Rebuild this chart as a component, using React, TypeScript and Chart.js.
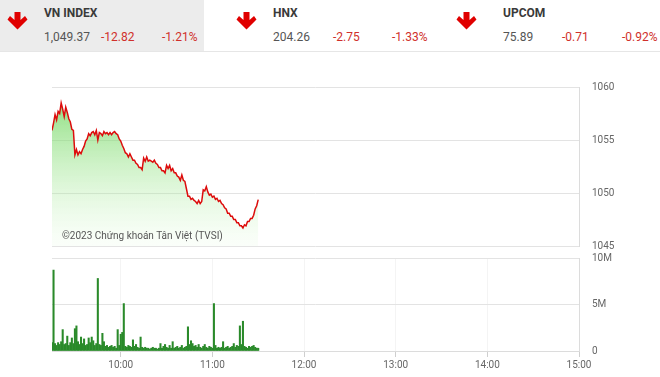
import React, { useEffect, useRef } from "react";
import { Chart, registerables } from "chart.js";
Chart.register(...registerables);

const START_MINUTE = 555; // 9:15
const END_MINUTE = 900; // 15:00
const timeTicks = [600, 660, 720, 780, 840, 900];
const priceTicks = [1045, 1050, 1055, 1060];

const prices = [
  1055.9, 1056.6, 1057.4, 1056.9, 1057.7, 1057.5, 1058.5, 1057.9, 1057.2, 1058.1,
  1057.6, 1057.0, 1056.7, 1056.0, 1055.9, 1053.6, 1054.1, 1053.6, 1053.9, 1053.7,
  1054.1, 1054.4, 1054.9, 1055.1, 1055.6, 1055.4, 1055.7, 1055.8, 1055.5, 1055.9,
  1055.0, 1055.7, 1055.6, 1055.4, 1055.8, 1055.6, 1055.7, 1055.5, 1055.7, 1055.5,
  1055.7, 1055.8, 1055.6, 1055.5, 1055.1, 1054.9, 1054.5, 1054.2, 1053.8, 1053.7,
  1053.4, 1053.7, 1053.4, 1053.1, 1053.1, 1052.8, 1052.7, 1052.4, 1052.4, 1052.2,
  1053.3, 1053.0, 1053.4, 1053.0, 1053.1, 1053.0, 1052.9, 1053.1, 1052.8, 1052.7,
  1052.4, 1052.4, 1052.1, 1052.1, 1051.9, 1052.6, 1052.3, 1052.6, 1052.1, 1052.3,
  1051.9, 1051.9, 1051.6, 1051.5, 1051.2, 1051.7, 1051.2, 1051.1, 1050.4, 1049.7,
  1049.7, 1049.4, 1049.5, 1049.3, 1049.2, 1049.0, 1049.3, 1049.0, 1049.2, 1050.3,
  1050.2, 1050.6, 1050.1, 1049.8, 1049.9, 1049.6, 1049.7, 1049.4, 1049.5, 1049.2,
  1049.3, 1049.0, 1048.9, 1048.6, 1048.5, 1048.1, 1048.1, 1047.8, 1047.8, 1047.5,
  1047.5, 1047.2, 1047.2, 1046.9, 1046.9, 1046.7, 1047.0, 1046.9, 1047.3, 1047.3,
  1047.6, 1047.6, 1047.9, 1048.5, 1048.8, 1049.37,
];

// volume in millions of shares, per minute
const volumes = [
  0.9, 8.7, 0.8, 0.6, 0.9, 0.7, 1.0, 2.3, 0.7, 0.8,
  1.6, 0.6, 0.9, 1.4, 0.8, 2.4, 2.7, 1.0, 0.7, 1.5,
  0.8, 1.3, 0.6, 0.7, 1.4, 0.9, 1.5, 1.1, 0.6, 0.8,
  7.8, 0.7, 0.6, 1.9, 1.0, 0.5, 0.6, 0.4, 0.5, 0.6,
  0.4, 0.5, 0.3, 2.3, 0.6, 1.8, 2.0, 5.1, 0.5, 0.4,
  0.6, 0.5, 0.4, 1.2, 0.5, 0.7, 0.4, 0.3, 1.5, 0.4,
  0.3, 0.4, 0.3, 0.3, 0.2, 0.3, 0.4, 0.3, 0.3, 0.2,
  0.3, 0.8, 0.3, 0.5, 0.7, 0.4, 0.3, 0.6, 0.3, 1.0,
  0.3, 0.4, 0.5, 0.3, 0.4, 0.6, 0.3, 0.4, 0.5, 2.6,
  0.7, 1.1, 0.8, 0.5, 0.6, 0.4, 0.7, 0.4, 0.3, 0.5,
  0.7, 0.4, 0.3, 0.5, 0.4, 0.3, 5.1, 0.6, 0.3, 0.4,
  0.3, 0.4, 1.0, 0.3, 0.4, 0.5, 0.3, 0.4, 0.5, 0.8,
  0.4, 0.6, 0.5, 2.7, 0.7, 3.2, 0.5, 0.4, 0.3, 0.5,
  0.4, 0.5, 0.6, 0.4, 0.3, 0.3,
];

const indices = [
  { name: "VN INDEX", value: "1,049.37", change: "-12.82", pct: "-1.21%", x: 0, bg: "#ececec" },
  { name: "HNX", value: "204.26", change: "-2.75", pct: "-1.33%", x: 220, bg: "#ffffff" },
  { name: "UPCOM", value: "75.89", change: "-0.71", pct: "-0.92%", x: 440, bg: "#ffffff" },
];

const FONT = "Roboto, Arial, sans-serif";
const fmtTime = (v: number) => {
  const h = Math.floor(v / 60);
  const m = v % 60;
  return `${h}:${m < 10 ? "0" + m : m}`;
};

function Arrow() {
  return (
    <svg width="21" height="18" viewBox="0 0 20 18">
      <path d="M7,0 L13,0 L13,8 L17.5,4 L20,7.5 L10,17.5 L0,7.5 L2.5,4 L7,8 Z" fill="#e00000" />
    </svg>
  );
}

export default function App() {
  const priceRef = useRef<HTMLCanvasElement>(null);
  const volRef = useRef<HTMLCanvasElement>(null);

  useEffect(() => {
    const times = prices.map((_, i) => START_MINUTE + i);
    const priceChart = new Chart(priceRef.current!, {
      type: "line",
      data: {
        datasets: [
          {
            data: prices.map((p, i) => ({ x: times[i], y: p })),
            borderColor: "#dd0c0c",
            borderWidth: 1.5,
            pointRadius: 0,
            tension: 0,
            fill: "start",
            backgroundColor: (ctx: any) => {
              const area = ctx.chart.chartArea;
              if (!area) return "rgba(120,210,100,0.5)";
              const g = ctx.chart.ctx.createLinearGradient(0, area.top, 0, area.bottom);
              g.addColorStop(0, "rgba(95,208,75,0.8)");
              g.addColorStop(1, "rgba(200,245,190,0.08)");
              return g;
            },
          },
        ],
      },
      options: {
        animation: false,
        responsive: false,
        maintainAspectRatio: false,
        layout: { padding: { left: 52, top: 87, bottom: 131, right: 0 } },
        plugins: { legend: { display: false }, tooltip: { enabled: false } },
        scales: {
          x: {
            type: "linear",
            min: START_MINUTE,
            max: END_MINUTE,
            display: false,
          },
          y: {
            position: "right",
            min: 1045,
            max: 1060,
            afterBuildTicks: (s: any) => {
              s.ticks = priceTicks.map((v) => ({ value: v }));
            },
            afterFit: (s: any) => {
              s.width = 81;
            },
            grid: { color: "#e3e3e3", drawTicks: false },
            border: { display: true, color: "#dcdcdc" },
            ticks: {
              padding: 13,
              color: "#666",
              font: { family: FONT, size: 10 },
              callback: (v: any) => String(v),
            },
          },
        },
      },
    });

    const volChart = new Chart(volRef.current!, {
      type: "bar",
      data: {
        datasets: [
          {
            data: volumes.map((v, i) => ({ x: times[i], y: v * 1e6 })),
            backgroundColor: "#2a8a2a",
            barThickness: 1.4,
            borderWidth: 0,
          },
        ],
      },
      options: {
        animation: false,
        responsive: false,
        maintainAspectRatio: false,
        layout: { padding: { left: 52, top: 258, bottom: 0, right: 0 } },
        plugins: { legend: { display: false }, tooltip: { enabled: false } },
        scales: {
          x: {
            type: "linear",
            min: START_MINUTE,
            max: END_MINUTE,
            offset: false,
            afterBuildTicks: (s: any) => {
              s.ticks = timeTicks.map((v) => ({ value: v }));
            },
            afterFit: (s: any) => {
              s.height = 26;
            },
            grid: { color: "#f4f4f4", tickColor: "#cfcfcf", tickLength: 6, offset: false },
            border: { display: true, color: "#dcdcdc" },
            ticks: {
              padding: 2,
              maxRotation: 0,
              color: "#666",
              font: { family: FONT, size: 10 },
              callback: (v: any) => fmtTime(Number(v)),
            },
          },
          y: {
            position: "right",
            min: 0,
            max: 10e6,
            afterBuildTicks: (s: any) => {
              s.ticks = [0, 5e6, 10e6].map((v) => ({ value: v }));
            },
            afterFit: (s: any) => {
              s.width = 81;
            },
            grid: { color: "#e3e3e3", drawTicks: false },
            border: { display: true, color: "#dcdcdc" },
            ticks: {
              padding: 13,
              color: "#666",
              font: { family: FONT, size: 10 },
              callback: (v: any) => (Number(v) === 0 ? "0" : Number(v) / 1e6 + "M"),
            },
          },
        },
      },
    });

    return () => {
      priceChart.destroy();
      volChart.destroy();
    };
  }, []);

  return (
    <div
      style={{
        position: "fixed",
        left: 0,
        top: 0,
        width: 660,
        height: 377,
        background: "#fff",
        overflow: "hidden",
        fontFamily: FONT,
      }}
    >
      {indices.map((ix) => (
        <div
          key={ix.name}
          style={{ position: "absolute", left: ix.x, top: 0, width: ix.x === 0 ? 204 : 220, height: 51, background: ix.bg }}
        >
          <div style={{ position: "absolute", left: ix.x === 0 ? 7 : 16, top: 12 }}>
            <Arrow />
          </div>
          <div style={{ position: "absolute", left: ix.x === 0 ? 44 : ix.x === 220 ? 53 : 63, top: 6, fontSize: 12, fontWeight: 700, color: "#3a3a3a" }}>
            {ix.name}
          </div>
          <div style={{ position: "absolute", left: ix.x === 0 ? 44 : ix.x === 220 ? 53 : 63, top: 30, fontSize: 12, color: "#555", whiteSpace: "nowrap" }}>
            {ix.value}
          </div>
          <div style={{ position: "absolute", left: ix.x === 0 ? 101 : ix.x === 220 ? 113 : 122, top: 30, fontSize: 12, color: "#d0302b", whiteSpace: "nowrap" }}>
            {ix.change}
          </div>
          <div style={{ position: "absolute", left: ix.x === 0 ? 162 : ix.x === 220 ? 172 : 182, top: 30, fontSize: 12, color: "#d0302b", whiteSpace: "nowrap" }}>
            {ix.pct}
          </div>
        </div>
      ))}
      <div style={{ position: "absolute", left: 0, top: 51, width: 660, height: 1, background: "#e6e6e6" }} />
      <canvas ref={priceRef} width={660} height={377} style={{ position: "absolute", left: 0, top: 0 }} />
      <canvas ref={volRef} width={660} height={377} style={{ position: "absolute", left: 0, top: 0 }} />
      <div style={{ position: "absolute", left: 62, top: 230, fontSize: 10, color: "#555", whiteSpace: "nowrap" }}>
        ©2023 Chứng khoán Tân Việt (TVSI)
      </div>
    </div>
  );
}
